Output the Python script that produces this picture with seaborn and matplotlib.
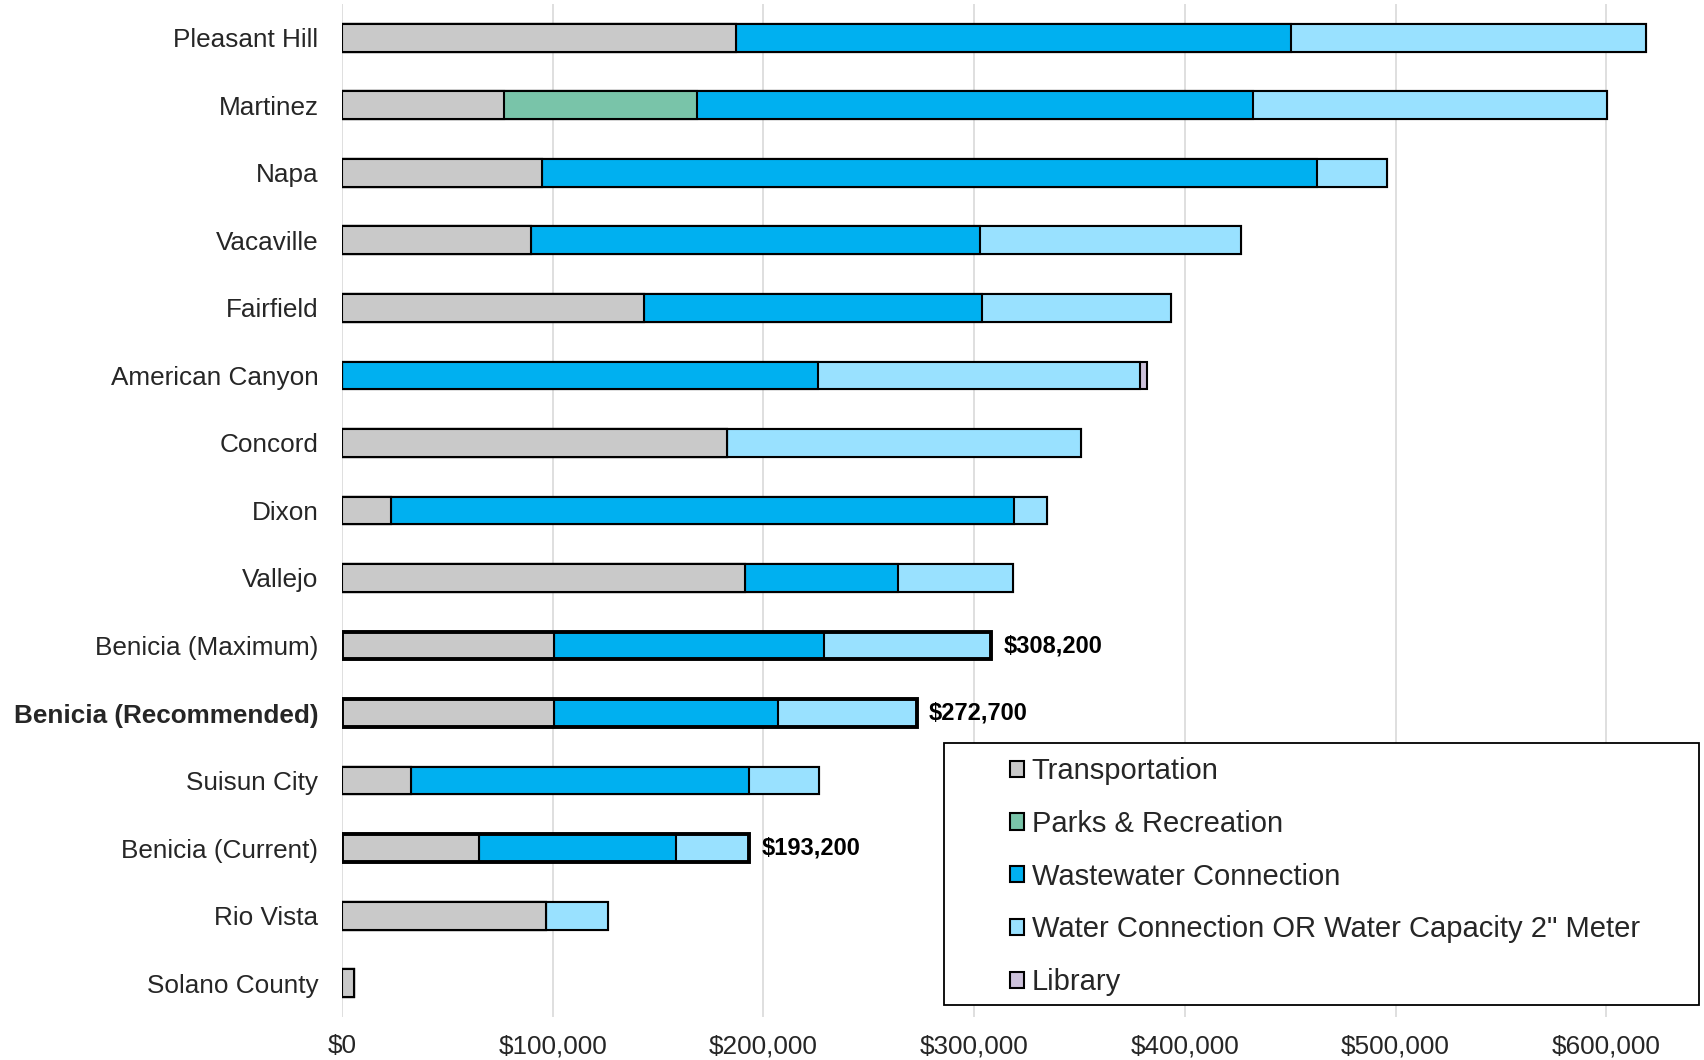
import matplotlib
matplotlib.use("Agg")
import matplotlib.pyplot as plt
from matplotlib.patches import Patch, Rectangle
from matplotlib.ticker import FuncFormatter
import numpy as np
import pandas as pd
import seaborn as sns

# Impact fees for a 2" meter commercial use, by jurisdiction ($)
cities = [
    "Pleasant Hill", "Martinez", "Napa", "Vacaville", "Fairfield",
    "American Canyon", "Concord", "Dixon", "Vallejo", "Benicia (Maximum)",
    "Benicia (Recommended)", "Suisun City", "Benicia (Current)", "Rio Vista",
    "Solano County",
]
transportation = [186800, 76900, 94800, 89700, 143300, 0, 182500, 23200,
                  191200, 100400, 100400, 32600, 65200, 96900, 5500]
parks = [0, 91700, 0, 0, 0, 0, 0, 0, 0, 0, 0, 0, 0, 0, 0]
wastewater = [263400, 263600, 368100, 213300, 160300, 225800, 0, 295800,
              72700, 128400, 106300, 160800, 93200, 0, 0]
water = [168500, 168300, 33000, 123800, 89700, 153100, 168000, 15500,
         54700, 79400, 66000, 32900, 34800, 29400, 0]
library = [0, 0, 0, 0, 0, 3200, 0, 0, 0, 0, 0, 0, 0, 0, 0]

series_names = ["Transportation", "Parks & Recreation", "Wastewater Connection",
                "Water Connection OR Water Capacity 2\" Meter", "Library"]
series_colors = ["#C9C9C9", "#79C4A9", "#00B0F0", "#99E1FF", "#CCC1DA"]

highlighted = ["Benicia (Maximum)", "Benicia (Recommended)", "Benicia (Current)"]
tick_values = [0, 100000, 200000, 300000, 400000, 500000, 600000]

df = pd.DataFrame({
    "city": cities,
    "Transportation": transportation,
    "Parks & Recreation": parks,
    "Wastewater Connection": wastewater,
    "Water Connection OR Water Capacity 2\" Meter": water,
    "Library": library,
})
cum = df[series_names].cumsum(axis=1)
df["total"] = cum[series_names[-1]]

sns.set_style("white")
plt.rcParams["font.family"] = ["Liberation Sans", "DejaVu Sans"]

fig = plt.figure(figsize=(17.04, 10.6), dpi=100)
ax = fig.add_axes([0.2007, 0.0406, 0.7993, 0.9557])

bar_w = 0.41
# stacked bars: draw cumulative totals from the outermost segment inwards
for name, color in reversed(list(zip(series_names, series_colors))):
    sns.barplot(data=pd.DataFrame({"city": cities, "v": cum[name]}),
                x="v", y="city", order=cities, orient="h", color=color,
                saturation=1, width=bar_w, edgecolor="black", linewidth=1.5,
                errorbar=None, ax=ax)

# heavy outline around the Benicia scenarios
bdf = df[df["city"].isin(highlighted)]
sns.barplot(data=bdf, x="total", y="city", order=cities, orient="h",
            color="black", fill=False, width=bar_w, linewidth=2.8,
            errorbar=None, ax=ax)

for _, row in bdf.iterrows():
    ax.annotate(f"${row['total']:,.0f}", xy=(row["total"], cities.index(row["city"])),
                xytext=(9, 0), textcoords="offset points", va="center", ha="left",
                fontsize=17, fontweight="bold", color="black")

ax.set_xlim(0, 646400)
ax.set_ylim(14.5, -0.5)
ax.set_xticks(tick_values)
ax.xaxis.set_major_formatter(FuncFormatter(lambda v, p: f"${v:,.0f}"))
ax.xaxis.grid(True, color="#D9D9D9", linewidth=1.2)
ax.yaxis.grid(False)
ax.set_axisbelow(True)
for s in ax.spines.values():
    s.set_visible(False)
ax.set_xlabel("")
ax.set_ylabel("")
ax.tick_params(axis="x", length=0, pad=12.5, labelsize=18.8)
ax.tick_params(axis="y", length=0, pad=17, labelsize=18.8)
for lab in ax.get_yticklabels():
    if lab.get_text() == "Benicia (Recommended)":
        lab.set_fontweight("bold")

# legend box
ax.add_patch(Rectangle((944 / 1704, 55 / 1060), 755 / 1704, 262 / 1060,
                       transform=fig.transFigure, facecolor="white",
                       edgecolor="black", linewidth=1.3, zorder=4, clip_on=False))
handles = [Patch(facecolor=c, edgecolor="black", linewidth=1.5) for c in series_colors]
fig.legend(handles, series_names, loc="upper left",
           bbox_to_anchor=(1010 / 1704, 1 - 757 / 1060), frameon=False,
           borderpad=0, borderaxespad=0, handlelength=0.48, handleheight=0.48,
           handletextpad=0.26, labelspacing=0.85, fontsize=21)

fig.savefig("out.png", dpi=100)
